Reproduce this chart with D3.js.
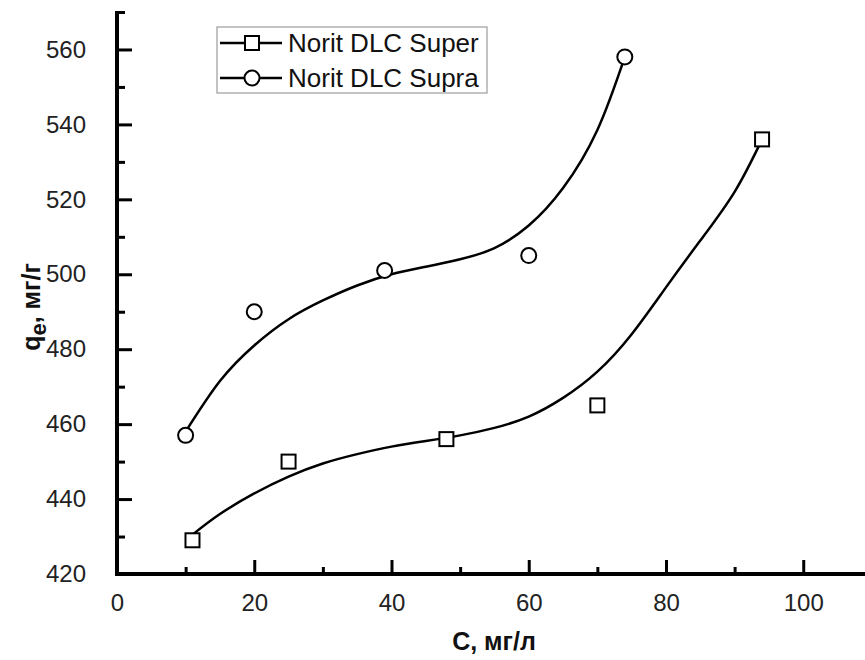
<!DOCTYPE html>
<html>
<head>
<meta charset="utf-8">
<script src="https://cdn.jsdelivr.net/npm/d3@7"></script>
<style>
  body { margin: 0; background: #fff; }
  svg { display: block; font-family: "Liberation Sans", Arial, sans-serif; }
</style>
</head>
<body>
<div id="chart-area"></div>
<script>
const W = 865, H = 660;
const MARGIN = { LEFT: 117, TOP: 12, BOTTOM: 86 };

// measured points
const superX = [11, 25, 48, 70, 94];
const superY = [429, 450, 456, 465, 536];
const supraX = [10, 20, 39, 60, 74];
const supraY = [457, 490, 501, 505, 558];

// fitted curves
const superFitX = [11, 15, 20, 25, 30, 35, 40, 45, 50, 55, 60, 65, 70, 75, 80, 85, 90, 94];
const superFitY = [430.5, 436, 441.5, 446, 449.5, 452, 454, 455.5, 457, 459, 462, 467, 474, 484, 496.5, 509, 522, 536];
const supraFitX = [10, 15, 20, 25, 30, 35, 40, 45, 50, 55, 60, 65, 70, 74];
const supraFitY = [458, 471.5, 481, 488, 493, 497, 500, 502, 504, 507, 513, 523, 538.5, 558];

const xMajor = [0, 20, 40, 60, 80, 100];
const xMinor = [10, 30, 50, 70, 90];
const yMajor = [420, 440, 460, 480, 500, 520, 540, 560];
const yMinor = [430, 450, 470, 490, 510, 530, 550, 570];

const seriesNames = ["Norit DLC Super", "Norit DLC Supra"];

const svg = d3.select("#chart-area").append("svg")
    .attr("width", W)
    .attr("height", H);

const x = d3.scaleLinear().domain([0, 109]).range([MARGIN.LEFT, W]);
const y = d3.scaleLinear().domain([420, 570]).range([H - MARGIN.BOTTOM, MARGIN.TOP]);

const x0 = x(0), yBase = y(420);

// minor ticks (inward)
svg.append("g").call(d3.axisBottom(x).tickValues(xMinor).tickSize(-7).tickFormat(""))
    .attr("transform", `translate(0, ${yBase})`)
    .call(g => g.select(".domain").remove())
    .selectAll("line").attr("stroke", "#000").attr("stroke-width", 3);
svg.append("g").call(d3.axisLeft(y).tickValues(yMinor).tickSize(-8).tickFormat(""))
    .attr("transform", `translate(${x0}, 0)`)
    .call(g => g.select(".domain").remove())
    .selectAll("line").attr("stroke", "#000").attr("stroke-width", 3);

// major ticks + labels
const xAxis = svg.append("g")
    .attr("transform", `translate(0, ${yBase})`)
    .call(d3.axisBottom(x).tickValues(xMajor).tickSize(-14).tickPadding(20));
xAxis.select(".domain").remove();
xAxis.selectAll("line").attr("stroke", "#000").attr("stroke-width", 3);
xAxis.selectAll("text").attr("font-size", 24).attr("fill", "#222")
    .attr("font-family", "Liberation Sans, Arial, sans-serif");

const yAxis = svg.append("g")
    .attr("transform", `translate(${x0}, 0)`)
    .call(d3.axisLeft(y).tickValues(yMajor).tickSize(-15).tickPadding(31));
yAxis.select(".domain").remove();
yAxis.selectAll("line").attr("stroke", "#000").attr("stroke-width", 3);
yAxis.selectAll("text").attr("font-size", 24).attr("fill", "#222")
    .attr("font-family", "Liberation Sans, Arial, sans-serif");

// axis lines
svg.append("line").attr("x1", x0).attr("x2", x0).attr("y1", y(570) - 1).attr("y2", yBase + 2)
    .attr("stroke", "#000").attr("stroke-width", 4);
svg.append("line").attr("x1", x0 - 2).attr("x2", W).attr("y1", yBase).attr("y2", yBase)
    .attr("stroke", "#000").attr("stroke-width", 4);

// fit curves
const line = d3.line().x(d => x(d[0])).y(d => y(d[1])).curve(d3.curveNatural);
svg.append("path").datum(d3.zip(superFitX, superFitY))
    .attr("d", line).attr("fill", "none").attr("stroke", "#000").attr("stroke-width", 2.5);
svg.append("path").datum(d3.zip(supraFitX, supraFitY))
    .attr("d", line).attr("fill", "none").attr("stroke", "#000").attr("stroke-width", 2.5);

// markers
svg.selectAll(".sq").data(d3.zip(superX, superY)).enter().append("rect")
    .attr("class", "sq")
    .attr("x", d => x(d[0]) - 7).attr("y", d => y(d[1]) - 7)
    .attr("width", 14).attr("height", 14)
    .attr("fill", "#fff").attr("stroke", "#000").attr("stroke-width", 2);
svg.selectAll(".ci").data(d3.zip(supraX, supraY)).enter().append("circle")
    .attr("class", "ci")
    .attr("cx", d => x(d[0])).attr("cy", d => y(d[1])).attr("r", 7.5)
    .attr("fill", "#fff").attr("stroke", "#000").attr("stroke-width", 2);

// legend
const legend = svg.append("g").attr("transform", "translate(217, 27)");
legend.append("rect").attr("width", 270).attr("height", 66)
    .attr("fill", "#fff").attr("stroke", "#888").attr("stroke-width", 1);
seriesNames.forEach((name, i) => {
    const row = legend.append("g").attr("transform", `translate(0, ${16 + i * 35})`);
    row.append("line").attr("x1", 3).attr("x2", 65).attr("stroke", "#000").attr("stroke-width", 2.5);
    if (i === 0) {
        row.append("rect").attr("x", 28).attr("y", -7).attr("width", 14).attr("height", 14)
            .attr("fill", "#fff").attr("stroke", "#000").attr("stroke-width", 2);
    } else {
        row.append("circle").attr("cx", 35).attr("r", 7.5)
            .attr("fill", "#fff").attr("stroke", "#000").attr("stroke-width", 2);
    }
    row.append("text").attr("x", 71).attr("y", 9)
        .attr("font-size", 26).attr("fill", "#111")
        .text(name);
});

// axis titles
svg.append("text")
    .attr("x", 494).attr("y", 650)
    .attr("text-anchor", "middle")
    .attr("font-size", 25).attr("font-weight", "bold").attr("fill", "#111")
    .text("C, мг/л");

const yTitle = svg.append("text")
    .attr("transform", "translate(40, 307) rotate(-90)")
    .attr("text-anchor", "middle")
    .attr("font-size", 25).attr("font-weight", "bold").attr("fill", "#111");
yTitle.append("tspan").text("q");
yTitle.append("tspan").attr("dy", 6).attr("font-size", 22).text("e");
yTitle.append("tspan").attr("dy", -6).text(", мг/г");
</script>
</body>
</html>
